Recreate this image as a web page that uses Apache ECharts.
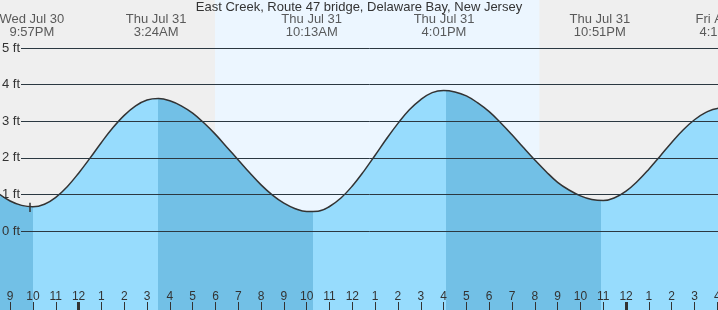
<!DOCTYPE html>
<html>
<head>
<meta charset="utf-8">
<script src="https://cdn.jsdelivr.net/npm/echarts@6/dist/echarts.min.js"></script>
<style>
  html, body { margin: 0; padding: 0; background: #efefef; }
  #main { width: 718px; height: 310px; }
</style>
</head>
<body>
<div id="main"></div>
<script>
// hours counted from Thu Jul 31 00:00, read every half hour off the curve
const tideHours = [-4, -3.5, -3, -2.5, -2, -1.5, -1, -0.5, 0, 0.5, 1, 1.5, 2, 2.5, 3, 3.5, 4, 4.5, 5, 5.5, 6, 6.5, 7, 7.5, 8, 8.5, 9, 9.5, 10, 10.5, 11, 11.5, 12, 12.5, 13, 13.5, 14, 14.5, 15, 15.5, 16, 16.5, 17, 17.5, 18, 18.5, 19, 19.5, 20, 20.5, 21, 21.5, 22, 22.5, 23, 23.5, 24, 24.5, 25, 25.5, 26, 26.5, 27, 27.5, 28, 28.5, 29];
const tideFeet = [1.29, 1.02, 0.82, 0.70, 0.66, 0.73, 0.92, 1.21, 1.58, 1.99, 2.42, 2.82, 3.16, 3.42, 3.58, 3.62, 3.56, 3.42, 3.22, 2.95, 2.64, 2.29, 1.94, 1.59, 1.26, 0.98, 0.76, 0.61, 0.53, 0.54, 0.67, 0.90, 1.23, 1.63, 2.07, 2.52, 2.94, 3.31, 3.59, 3.78, 3.84, 3.80, 3.69, 3.50, 3.26, 2.96, 2.63, 2.28, 1.94, 1.62, 1.33, 1.12, 0.96, 0.86, 0.83, 0.91, 1.09, 1.36, 1.69, 2.05, 2.42, 2.76, 3.04, 3.24, 3.35, 3.36, 3.30];

const eventHours = [-2.05, 3.4, 10.22, 16.02, 22.85, 28.2];
const eventKinds = ['low', 'high', 'low', 'high', 'low', 'high'];
const eventDates = ['Wed Jul 30', 'Thu Jul 31', 'Thu Jul 31', 'Thu Jul 31', 'Thu Jul 31', 'Fri Aug 1'];
const eventTimes = ['9:57PM', '3:24AM', '10:13AM', '4:01PM', '10:51PM', '4:12AM'];

const sunrise = 5.98;
const sunset = 20.2;
const nowHour = -2.13;

const hourTicks = [-3, -2, -1, 0, 1, 2, 3, 4, 5, 6, 7, 8, 9, 10, 11, 12, 13, 14, 15, 16, 17, 18, 19, 20, 21, 22, 23, 24, 25, 26, 27, 28];
const midnightTicks = [0, 24];
const feetTicks = [0, 1, 2, 3, 4, 5];

const W = 718;
const xMin = -3.446, xMax = 28.031;
const yMin = -2.1585, yMax = 6.3115;
const gridStart = xMin + 21 / W * (xMax - xMin);
const labelLevel = 5.60;
const font = 'Liberation Sans, Arial, sans-serif';
const lightWater = '#97dcfd';
const darkWater = '#72c0e6';

// water colour: darker while the tide falls (high -> low)
function waterStops() {
  const shift = 1.5;
  const stops = [];
  let cur = eventKinds[0] === 'low' ? darkWater : lightWater;
  stops.push({ offset: 0, color: cur });
  eventHours.forEach(function (h, i) {
    let f = ((h - xMin) / (xMax - xMin) * W + shift) / W;
    f = Math.min(1, Math.max(0, f));
    const next = eventKinds[i] === 'low' ? lightWater : darkWater;
    stops.push({ offset: f, color: cur });
    stops.push({ offset: f, color: next });
    cur = next;
  });
  stops.push({ offset: 1, color: cur });
  return stops;
}

function gridLines() {
  return feetTicks.map(function (v) {
    return [{ coord: [gridStart, v] }, { coord: [xMax, v] }];
  });
}

var myChart = echarts.init(document.querySelector('#main'));
var options = {
  backgroundColor: '#efefef',
  animation: false,
  textStyle: { fontFamily: font },
  title: {
    text: 'East Creek, Route 47 bridge, Delaware Bay, New Jersey',
    left: 'center',
    top: 1,
    padding: 0,
    textStyle: { fontSize: 13, fontWeight: 'normal', color: '#333', fontFamily: font }
  },
  grid: { left: 0, right: 0, top: 0, bottom: 0, outerBoundsMode: 'none' },
  xAxis: [
    {
      type: 'value', min: xMin, max: xMax, position: 'bottom', z: 10,
      splitLine: { show: false },
      axisLine: { show: false, onZero: false },
      axisTick: { show: true, inside: true, length: 8, customValues: hourTicks, lineStyle: { color: '#333', width: 1 } },
      axisLabel: {
        show: true, inside: true, margin: 7, customValues: hourTicks,
        color: '#333', fontSize: 12, fontFamily: font,
        formatter: function (h) { return String(((h % 12) + 12) % 12 || 12); }
      }
    },
    {
      type: 'value', min: xMin, max: xMax, position: 'bottom', z: 11,
      splitLine: { show: false },
      axisLine: { show: false, onZero: false },
      axisTick: { show: true, inside: true, length: 8, customValues: midnightTicks, lineStyle: { color: '#333', width: 3 } },
      axisLabel: { show: false }
    }
  ],
  yAxis: {
    type: 'value', min: yMin, max: yMax, z: 10,
    splitLine: { show: false },
    axisLine: { show: false, onZero: false },
    axisTick: { show: false },
    axisLabel: {
      inside: true, margin: 2, customValues: feetTicks,
      color: '#333', fontSize: 13, fontFamily: font,
      formatter: '{value} ft'
    }
  },
  series: [
    {
      type: 'line', data: [], z: 0, silent: true,
      markArea: {
        silent: true,
        itemStyle: { color: '#ecf6ff' },
        data: [[{ xAxis: sunrise }, { xAxis: sunset }]]
      }
    },
    {
      type: 'line', data: [], z: 1, silent: true,
      markLine: {
        silent: true, symbol: 'none', label: { show: false },
        lineStyle: { color: '#333', width: 1, type: 'solid' },
        data: gridLines()
      }
    },
    {
      type: 'line', z: 2, silent: true,
      data: tideHours.map(function (h, i) { return [h, tideFeet[i]]; }),
      smooth: 0.4,
      showSymbol: false,
      lineStyle: { color: '#333', width: 1.5 },
      areaStyle: {
        origin: 'start',
        opacity: 1,
        color: new echarts.graphic.LinearGradient(0, 0, W, 0, waterStops(), true)
      }
    },
    {
      type: 'line', data: [], z: 3, silent: true,
      markLine: {
        silent: true, symbol: 'none', label: { show: false },
        lineStyle: { color: 'rgba(0,90,150,0.15)', width: 1, type: 'solid' },
        data: gridLines()
      }
    },
    {
      type: 'line', data: [], z: 4, silent: true,
      markLine: {
        silent: true, symbol: 'none', label: { show: false },
        lineStyle: { color: '#333', width: 1.5, type: 'solid' },
        data: [[{ coord: [nowHour, 0.52] }, { coord: [nowHour, 0.77] }]]
      }
    },
    {
      type: 'scatter', z: 5, silent: true, clip: false,
      symbolSize: 1,
      itemStyle: { color: 'rgba(0,0,0,0)' },
      data: eventHours.map(function (h) { return [h, labelLevel]; }),
      label: {
        show: true, position: 'inside',
        color: '#333', fontSize: 13, lineHeight: 13, fontFamily: font,
        formatter: function (p) { return eventDates[p.dataIndex] + '\n' + eventTimes[p.dataIndex]; }
      }
    }
  ]
};
myChart.setOption(options);
</script>
</body>
</html>
